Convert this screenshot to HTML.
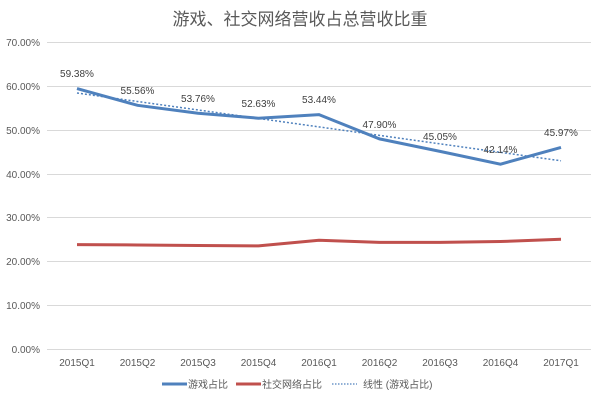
<!DOCTYPE html><html><head><meta charset="utf-8"><style>body{margin:0;background:#fff}svg{display:block}text{font-family:"Liberation Sans","Noto Sans CJK SC",sans-serif}</style></head><body>
<svg width="600" height="402" viewBox="0 0 600 402">
<text x="300" y="25" text-anchor="middle" font-size="17" fill="#595959">游戏、社交网络营收占总营收比重</text>
<g stroke="#d9d9d9" stroke-width="1">
<line x1="47" x2="591" y1="42.5" y2="42.5"/><line x1="47" x2="591" y1="86.5" y2="86.5"/><line x1="47" x2="591" y1="130.5" y2="130.5"/><line x1="47" x2="591" y1="174.5" y2="174.5"/><line x1="47" x2="591" y1="217.5" y2="217.5"/><line x1="47" x2="591" y1="261.5" y2="261.5"/><line x1="47" x2="591" y1="305.5" y2="305.5"/><line x1="47" x2="591" y1="349.5" y2="349.5"/>
</g>
<g font-size="10" fill="#595959" text-anchor="end">
<text x="40" y="46">70.00%</text><text x="40" y="90">60.00%</text><text x="40" y="134">50.00%</text><text x="40" y="178">40.00%</text><text x="40" y="221">30.00%</text><text x="40" y="265">20.00%</text><text x="40" y="309">10.00%</text><text x="40" y="353">0.00%</text>
</g>
<g font-size="10" fill="#595959" text-anchor="middle">
<text x="77" y="366">2015Q1</text><text x="137.5" y="366">2015Q2</text><text x="198" y="366">2015Q3</text><text x="258.5" y="366">2015Q4</text><text x="319" y="366">2016Q1</text><text x="379.5" y="366">2016Q2</text><text x="440" y="366">2016Q3</text><text x="500.5" y="366">2016Q4</text><text x="561" y="366">2017Q1</text>
</g>
<polyline fill="none" stroke="#c0504d" stroke-width="3" points="77,244.6 137.5,245 198,245.5 258.5,245.9 319,240.2 379.5,242.4 440,242.4 500.5,241.5 561,239.3"/>
<polyline fill="none" stroke="#4f81bd" stroke-width="1.5" stroke-dasharray="2,2" points="77,93 561,160.8"/>
<polyline fill="none" stroke="#4f81bd" stroke-width="3" points="77,88.6 137.5,105.3 198,113.2 258.5,118.2 319,114.6 379.5,138.9 440,151.4 500.5,164.2 561,147.4"/>
<g font-size="10" fill="#404040" text-anchor="middle">
<text x="77" y="77">59.38%</text><text x="137.5" y="94">55.56%</text><text x="198" y="102">53.76%</text><text x="258.5" y="107">52.63%</text><text x="319" y="103">53.44%</text><text x="379.5" y="128">47.90%</text><text x="440" y="140">45.05%</text><text x="500.5" y="153">42.14%</text><text x="561" y="136">45.97%</text>
</g>
<g font-size="10" fill="#595959">
<line x1="162" x2="187" y1="384" y2="384" stroke="#4f81bd" stroke-width="3"/><text x="188" y="388">游戏占比</text>
<line x1="236" x2="261" y1="384" y2="384" stroke="#c0504d" stroke-width="3"/><text x="262" y="388">社交网络占比</text>
<line x1="332" x2="357" y1="384" y2="384" stroke="#4f81bd" stroke-width="1.2" stroke-dasharray="1.5,1.5"/><text x="363" y="388">线性 (游戏占比)</text>
</g>
</svg></body></html>
